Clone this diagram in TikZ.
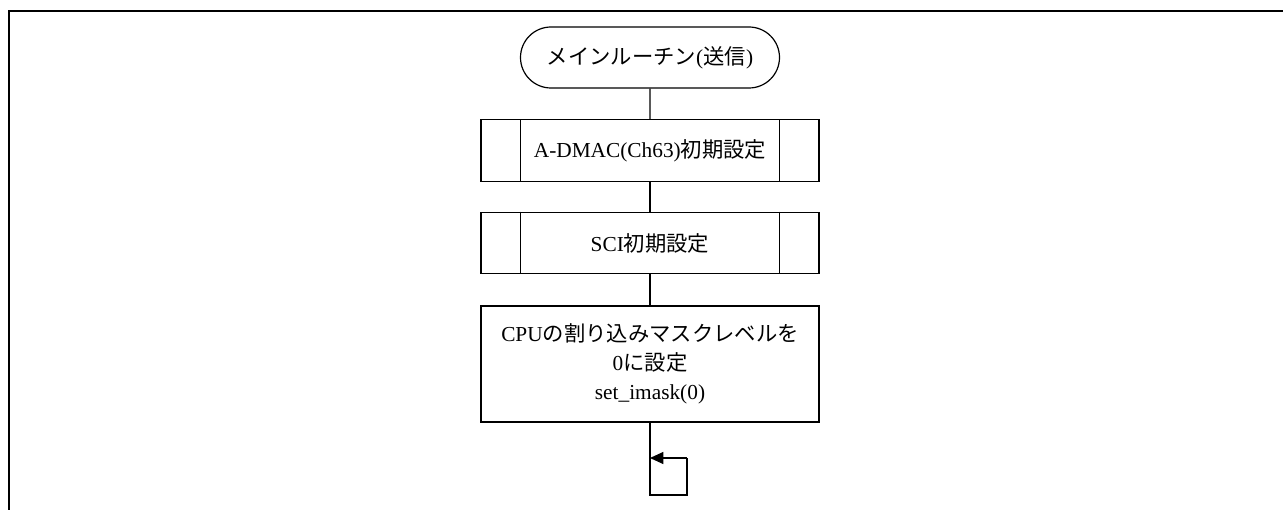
\documentclass[tikz,border=0pt]{standalone}
\usepackage{fontspec}
\setmainfont{Liberation Serif}
\newfontfamily\jp{Noto Sans CJK JP}
\usetikzlibrary{shapes.misc,arrows.meta}
\begin{document}
\begin{tikzpicture}[x=0.75pt,y=-0.75pt,
  line width=0.9pt,
  every node/.style={font=\fontsize{16}{22}\selectfont, inner sep=0pt, align=center},
  term/.style={draw, rounded rectangle, minimum width=194.25pt, minimum height=45.75pt},
  proc/.style={draw, rectangle, minimum width=253.5pt, minimum height=46pt},
  predef/.style={proc},
  arr/.style={-{Triangle[length=10pt,width=9pt]}}]
\useasboundingbox (0,0) rectangle (1283,510);
\draw[line width=1.5pt] (9,512) -- (9,11) -- (1285,11);

\node[term] (t) at (650,57.5) {{\jp メインルーチン}({\jp 送信})};
\node[predef] (b1) at (650,150.5) {A-DMAC(Ch63){\jp 初期設定}};
\node[predef] (b2) at (650,243) {SCI{\jp 初期設定}};
\node[proc, minimum height=87pt] (b3) at (650,364) {CPU{\jp の割り込みマスクレベルを}\\0{\jp に設定}\\set\_imask(0)};

\foreach \n in {b1,b2}{
  \draw ([xshift=30pt]\n.north west) -- ([xshift=30pt]\n.south west);
  \draw ([xshift=-30pt]\n.north east) -- ([xshift=-30pt]\n.south east);
}

\draw (t) -- (b1);
\draw (b1) -- (b2);
\draw (b2) -- (b3);

\coordinate (l1) at (650,495);
\coordinate (l2) at (687,495);
\coordinate (l3) at (687,458);
\coordinate (l4) at (650,458);
\draw (b3.south) -- (l1) -- (l2) -- (l3);
\draw[arr] (l3) -- (l4);
\end{tikzpicture}
\end{document}
